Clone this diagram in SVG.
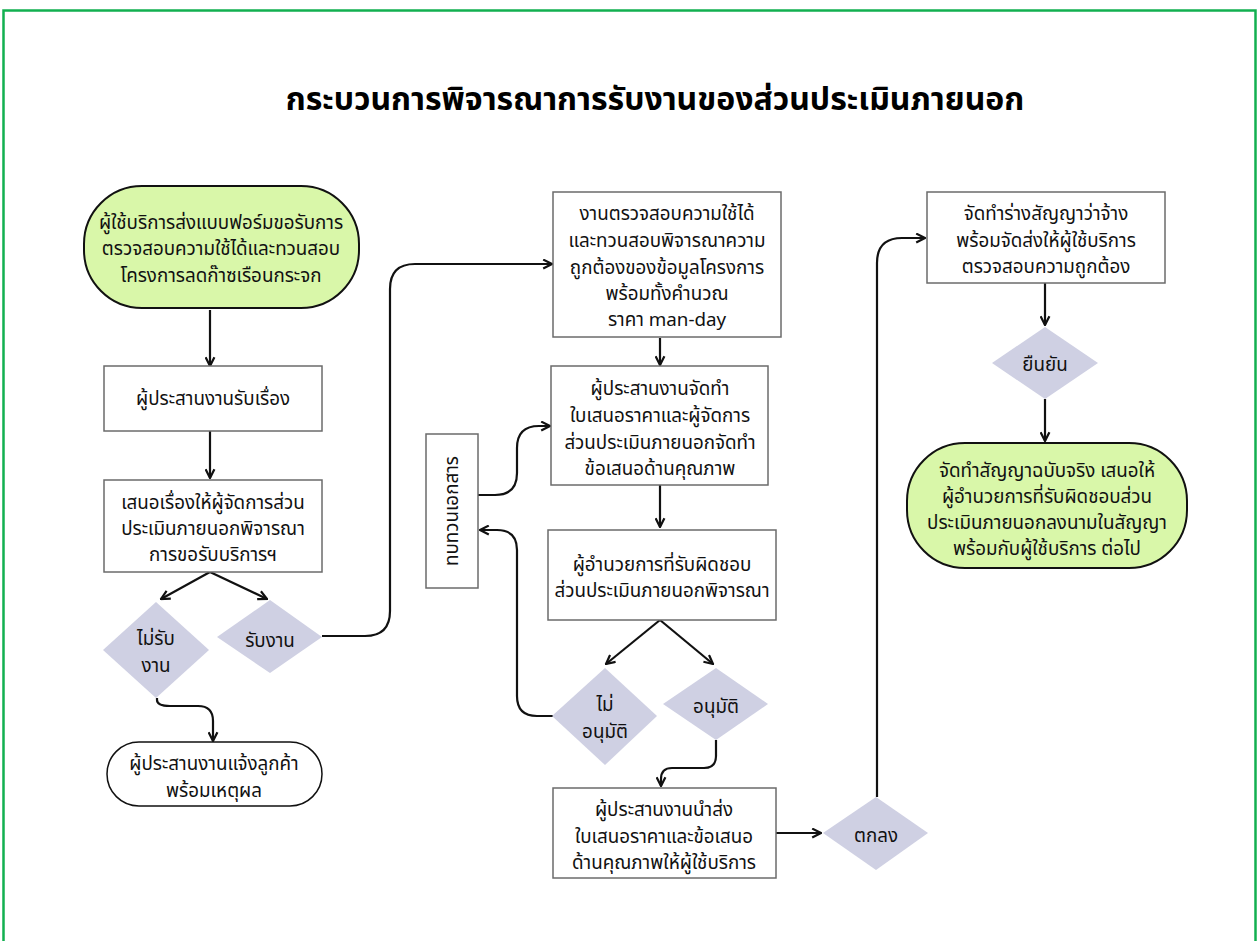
<svg xmlns="http://www.w3.org/2000/svg" width="1259" height="941" viewBox="0 0 1259 941">
<style>
  .t{font-family:"Noto Sans Thai","Noto Sans","DejaVu Sans",sans-serif;font-size:18.8px;fill:#111;text-anchor:middle}
  .title{font-family:"Noto Sans Thai","Noto Sans","DejaVu Sans",sans-serif;font-size:32px;font-weight:bold;fill:#000;text-anchor:middle}
  .box{fill:#fff;stroke:#6b6b6b;stroke-width:1.5}
  .term{fill:#d9f7a9;stroke:#111;stroke-width:2}
  .termw{fill:#fff;stroke:#111;stroke-width:1.5}
  .dia{fill:#cfd0e3;stroke:none}
  .c{fill:none;stroke:#111;stroke-width:2.2}
</style>
<defs>
  <marker id="ah" viewBox="0 0 10 10" refX="9" refY="5" markerWidth="5" markerHeight="5" orient="auto" markerUnits="strokeWidth">
    <path d="M1,1 L9,5 L1,9" fill="none" stroke="#111" stroke-width="2"/>
  </marker>
</defs>
<rect x="0" y="0" width="1259" height="941" fill="#fff"/>
<rect x="3.5" y="10.5" width="1252" height="960" fill="none" stroke="#12b050" stroke-width="2.5"/>
<text class="title" x="655" y="110">กระบวนการพิจารณาการรับงานของส่วนประเมินภายนอก</text>

<g id="connectors">
  <path class="c" d="M210,310 V366" marker-end="url(#ah)"/>
  <path class="c" d="M210,431 V478" marker-end="url(#ah)"/>
  <path class="c" d="M210,572 L161,599" marker-end="url(#ah)"/>
  <path class="c" d="M210,572 L267,599" marker-end="url(#ah)"/>
  <path class="c" d="M322,636 H365 Q390,636 390,611 V289 Q390,264 415,264 H552" marker-end="url(#ah)"/>
  <path class="c" d="M157,698 V700 Q157,706 170,706 H198 Q213,706 213,721 V741" marker-end="url(#ah)"/>
  <path class="c" d="M660,338 V365" marker-end="url(#ah)"/>
  <path class="c" d="M660,485 V527" marker-end="url(#ah)"/>
  <path class="c" d="M478,495 H495 Q517,495 517,473 V448 Q517,426 539,426 H550" marker-end="url(#ah)"/>
  <path class="c" d="M553,716 H537 Q517,716 517,696 V550 Q517,530 497,530 H480" marker-end="url(#ah)"/>
  <path class="c" d="M660,620 L606,664" marker-end="url(#ah)"/>
  <path class="c" d="M660,620 L713,664" marker-end="url(#ah)"/>
  <path class="c" d="M716,740 V756 Q716,768 704,768 H672 Q661,768 661,779 V786" marker-end="url(#ah)"/>
  <path class="c" d="M776,833 H821" marker-end="url(#ah)"/>
  <path class="c" d="M877,797 V263 Q877,238 902,238 H925" marker-end="url(#ah)"/>
  <path class="c" d="M1045,283 V325" marker-end="url(#ah)"/>
  <path class="c" d="M1045,399 V441" marker-end="url(#ah)"/>
</g>

<g id="n1">
  <rect class="term" x="84" y="186" width="275" height="122" rx="58" ry="58"/>
  <text class="t" x="221" y="229">ผู้ใช้บริการส่งแบบฟอร์มขอรับการ</text>
  <text class="t" x="221" y="255">ตรวจสอบความใช้ได้และทวนสอบ</text>
  <text class="t" x="221" y="282">โครงการลดก๊าซเรือนกระจก</text>
</g>
<g id="n2">
  <rect class="box" x="104" y="366" width="218" height="65"/>
  <text class="t" x="213" y="405">ผู้ประสานงานรับเรื่อง</text>
</g>
<g id="n3">
  <rect class="box" x="104" y="480" width="218" height="92"/>
  <text class="t" x="213" y="509">เสนอเรื่องให้ผู้จัดการส่วน</text>
  <text class="t" x="213" y="535">ประเมินภายนอกพิจารณา</text>
  <text class="t" x="213" y="561">การขอรับบริการฯ</text>
</g>
<g id="d_reject">
  <polygon class="dia" points="156,602 209,650 156,698 103,650"/>
  <text class="t" x="156" y="645">ไม่รับ</text>
  <text class="t" x="156" y="672">งาน</text>
</g>
<g id="d_accept">
  <polygon class="dia" points="270,600 322,637 270,673 217,637"/>
  <text class="t" x="270" y="647">รับงาน</text>
</g>
<g id="n_notify">
  <rect class="termw" x="107" y="742" width="215" height="64" rx="32" ry="32"/>
  <text class="t" x="214" y="770">ผู้ประสานงานแจ้งลูกค้า</text>
  <text class="t" x="214" y="797">พร้อมเหตุผล</text>
</g>

<g id="nA">
  <rect class="box" x="553" y="192" width="228" height="145"/>
  <text class="t" x="667" y="220">งานตรวจสอบความใช้ได้</text>
  <text class="t" x="667" y="247">และทวนสอบพิจารณาความ</text>
  <text class="t" x="667" y="274">ถูกต้องของข้อมูลโครงการ</text>
  <text class="t" x="667" y="300">พร้อมทั้งคำนวณ</text>
  <text class="t" x="667" y="326">ราคา man-day</text>
</g>
<g id="nB">
  <rect class="box" x="551" y="366" width="217" height="119"/>
  <text class="t" x="660" y="395">ผู้ประสานงานจัดทำ</text>
  <text class="t" x="660" y="422">ใบเสนอราคาและผู้จัดการ</text>
  <text class="t" x="660" y="449">ส่วนประเมินภายนอกจัดทำ</text>
  <text class="t" x="660" y="475">ข้อเสนอด้านคุณภาพ</text>
</g>
<g id="nC">
  <rect class="box" x="548" y="530" width="228" height="90"/>
  <text class="t" x="662" y="571">ผู้อำนวยการที่รับผิดชอบ</text>
  <text class="t" x="662" y="597">ส่วนประเมินภายนอกพิจารณา</text>
</g>
<g id="n_review">
  <rect class="box" x="426" y="434" width="52" height="154"/>
  <text class="t" transform="translate(452,511) rotate(-90)" x="0" y="6">ทบทวนเอกสาร</text>
</g>
<g id="d_noapprove">
  <polygon class="dia" points="605,668 657,716 605,765 552,716"/>
  <text class="t" x="605" y="711">ไม่</text>
  <text class="t" x="605" y="738">อนุมัติ</text>
</g>
<g id="d_approve">
  <polygon class="dia" points="716,668 768,704 716,740 663,704"/>
  <text class="t" x="716" y="713">อนุมัติ</text>
</g>
<g id="nD">
  <rect class="box" x="553" y="788" width="223" height="90"/>
  <text class="t" x="664" y="816">ผู้ประสานงานนำส่ง</text>
  <text class="t" x="664" y="843">ใบเสนอราคาและข้อเสนอ</text>
  <text class="t" x="664" y="869">ด้านคุณภาพให้ผู้ใช้บริการ</text>
</g>
<g id="d_agree">
  <polygon class="dia" points="876,797 928,833 876,870 823,833"/>
  <text class="t" x="876" y="842">ตกลง</text>
</g>
<g id="nE">
  <rect class="box" x="927" y="192" width="238" height="91"/>
  <text class="t" x="1046" y="220">จัดทำร่างสัญญาว่าจ้าง</text>
  <text class="t" x="1046" y="247">พร้อมจัดส่งให้ผู้ใช้บริการ</text>
  <text class="t" x="1046" y="273">ตรวจสอบความถูกต้อง</text>
</g>
<g id="d_confirm">
  <polygon class="dia" points="1045,327 1098,363 1045,399 992,363"/>
  <text class="t" x="1045" y="371">ยืนยัน</text>
</g>
<g id="nF">
  <rect class="term" x="907" y="443" width="280" height="125" rx="58" ry="58"/>
  <text class="t" x="1047" y="477">จัดทำสัญญาฉบับจริง เสนอให้</text>
  <text class="t" x="1047" y="503">ผู้อำนวยการที่รับผิดชอบส่วน</text>
  <text class="t" x="1047" y="529">ประเมินภายนอกลงนามในสัญญา</text>
  <text class="t" x="1047" y="555">พร้อมกับผู้ใช้บริการ ต่อไป</text>
</g>
</svg>
